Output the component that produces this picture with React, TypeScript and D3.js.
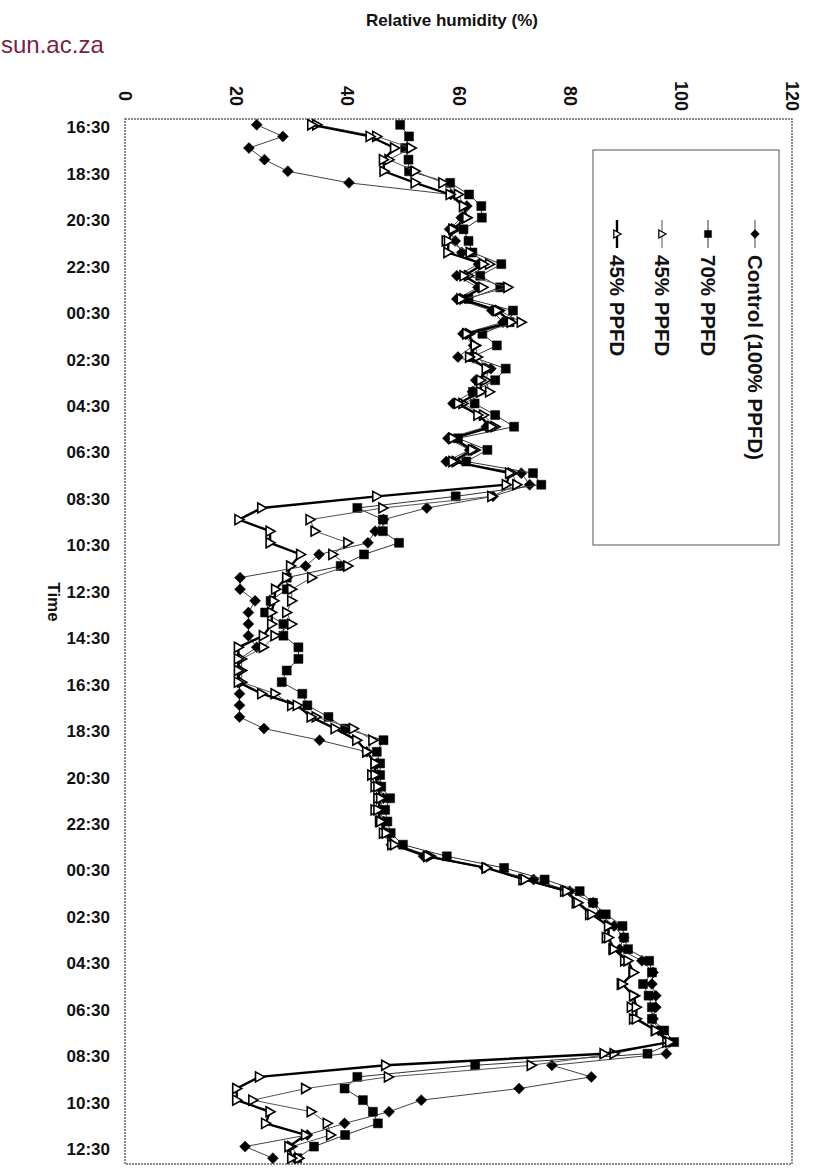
import React from "react";
import * as d3 from "d3";

const times = [
  "16:30","17:00","17:30","18:00","18:30","19:00","19:30","20:00","20:30","21:00",
  "21:30","22:00","22:30","23:00","23:30","00:00","00:30","01:00","01:30","02:00",
  "02:30","03:00","03:30","04:00","04:30","05:00","05:30","06:00","06:30","07:00",
  "07:30","08:00","08:30","09:00","09:30","10:00","10:30","11:00","11:30","12:00",
  "12:30","13:00","13:30","14:00","14:30","15:00","15:30","16:00","16:30","17:00",
  "17:30","18:00","18:30","19:00","19:30","20:00","20:30","21:00","21:30","22:00",
  "22:30","23:00","23:30","00:00","00:30","01:00","01:30","02:00","02:30","03:00",
  "03:30","04:00","04:30","05:00","05:30","06:00","06:30","07:00","07:30","08:00",
  "08:30","09:00","09:30","10:00","10:30","11:00","11:30","12:00","12:30","13:00",
];

const control = [
  23.7, 28.4, 22.3, 25.1, 29.3, 40.3, 58.6, 61.5, 60.5, 58.4,
  59.4, 60.6, 63.6, 59.7, 63.5, 59.7, 66, 68, 60.8, 62.7,
  59.9, 65.8, 63.1, 62.5, 59, 64, 65, 58.1, 62, 57.8,
  71.3, 72.8, 66.2, 54.3, 46.5, 45, 43.7, 34.9, 32.5, 20.7,
  20.7, 23.4, 22.2, 22.2, 22.2, 23.7, 20.6, 20.6, 20.6, 20.6,
  20.6, 20.6, 25, 35, 43.5, 45.3, 45.5, 45.8, 46.5, 45.8,
  46.5, 47, 47.9, 53.7, 64.7, 73.5, 80, 84.2, 85.5, 88,
  89.7, 89, 93, 95, 94.8, 95.5, 95.5, 95, 96, 98,
  97.4, 76.8, 83.9, 70.9, 53.3, 47.5, 39.5, 32.8, 21.6, 26.6,
];

const ppfd70 = [
  49.5, 51.1, 50.4, 51, 51.1, 58.5, 61.9, 64.1, 64.2, 60.9,
  61.8, 62.5, 67.7, 63.9, 67.5, 61.8, 69.8, 69.2, 64.3, 66.9,
  62.5, 68.5, 66.6, 62.6, 62.9, 66.6, 70, 59.9, 65.2, 61.4,
  73.4, 74.9, 59.5, 41.8, 46.4, 46.4, 49.3, 43, 38.8, 29.1,
  29.1, 26.2, 25.2, 28.5, 28.5, 31.2, 31.2, 29.1, 28.2, 31.9,
  32.8, 36.6, 39.6, 46.5, 45.3, 45.9, 45.9, 46.1, 47.7, 46.8,
  47.2, 47.8, 50, 57.9, 68.2, 75.5, 81.8, 84.2, 86.5, 89.5,
  89.8, 90.5, 94.3, 94.8, 93.2, 94.2, 94.8, 94.8, 97, 98.8,
  94, 63, 41.8, 39.5, 42.8, 44.6, 45.5, 39.6, 34, 31,
];

const ppfd45 = [
  34.5, 45.3, 51.5, 47.5, 52.2, 57.2, 60, 61, 61.5, 59.5,
  57.8, 62.1, 65.6, 61.8, 68.9, 61, 67.4, 71.3, 62, 63.1,
  63.4, 65.5, 64.9, 65.6, 60.8, 64.5, 66.6, 59, 63, 59.6,
  69.7, 70.5, 66, 46.4, 33.3, 34.2, 40.1, 37.4, 40.1, 33.6,
  30, 30, 29.1, 30, 27, 24.9, 21, 21, 21, 27,
  30, 34.4, 41.1, 44.6, 43.5, 45, 44.4, 45, 45.5, 45,
  45.8, 46.5, 48, 55, 65, 71.6, 79.1, 81.2, 83.6, 87.2,
  86.6, 87.8, 89.9, 91.4, 89.3, 91.7, 91.1, 91.5, 95.4, 97.5,
  88, 73.1, 47.4, 32.5, 23, 33.5, 36.4, 37, 30, 31.3,
];

const ppfd45b = [
  33.6, 44.1, 48.5, 46.5, 46.6, 52.2, 58.5, 60.9, 61.5, 59,
  58.2, 58.1, 64.5, 61, 64.4, 60.5, 67, 69.5, 61.5, 63,
  62, 65, 64, 64, 60, 63.5, 66, 59, 62.5, 59,
  69.2, 68.6, 45.3, 24.6, 20.5, 26.1, 26.1, 31.6, 29.8, 29.1,
  27.1, 26.8, 26.4, 26.4, 24.9, 20.4, 20.4, 20.4, 20.4, 24.6,
  31, 33.5, 37.8, 41.7, 43.5, 45, 45, 45.5, 46, 45.5,
  46, 47, 48.5, 54.5, 65, 72, 79.5, 81.5, 84, 87,
  87, 88, 90.5, 91.5, 89.5, 91.5, 92, 92, 95.5, 98,
  86.2, 46.9, 24.2, 20.1, 20.1, 26.1, 25.3, 32.5, 29.5, 30,
];

const valueTicks = [0, 20, 40, 60, 80, 100, 120];
const seriesNames = ["Control (100% PPFD)", "70% PPFD", "45% PPFD", "45% PPFD"];

const W = 817;
const H = 1172;
const plot = { left: 125, right: 792, top: 119, bottom: 1164 };
const FONT = "'Liberation Sans', Arial, sans-serif";

const diamondPath = "M0,-5.5L5.5,0L0,5.5L-5.5,0Z";
const squarePath = "M-4.5,-4.5H4.5V4.5H-4.5Z";
const triPath = "M-4,-5L5,0L-4,5Z";

type Series = {
  name: string;
  values: number[];
  marker: string;
  fill: string;
  stroke: string;
  lineColor: string;
  lineWidth: number;
  markerStroke: number;
};

export default function App() {
  const x = d3.scaleLinear().domain([0, 120]).range([plot.left, plot.right]);
  const y = d3
    .scalePoint<number>()
    .domain(times.map((_, i) => i))
    .range([plot.top, plot.bottom])
    .padding(0.5);

  const series: Series[] = [
    { name: seriesNames[0], values: control, marker: diamondPath, fill: "#000", stroke: "#000", lineColor: "#444", lineWidth: 1, markerStroke: 0.5 },
    { name: seriesNames[1], values: ppfd70, marker: squarePath, fill: "#000", stroke: "#000", lineColor: "#333", lineWidth: 1, markerStroke: 0.5 },
    { name: seriesNames[2], values: ppfd45, marker: triPath, fill: "#fff", stroke: "#000", lineColor: "#555", lineWidth: 1, markerStroke: 1.6 },
    { name: seriesNames[3], values: ppfd45b, marker: triPath, fill: "#fff", stroke: "#000", lineColor: "#000", lineWidth: 2.4, markerStroke: 1.6 },
  ];

  const line = (vals: number[]) =>
    d3
      .line<number>()
      .x((d) => x(d))
      .y((_, i) => y(i) as number)(vals) || "";

  const legendCols = [755, 708, 662, 617];

  return (
    <svg
      width={W}
      height={H}
      style={{ position: "absolute", left: 0, top: 0, background: "#fff" }}
      fontFamily={FONT}
    >
      <rect x={0} y={0} width={W} height={H} fill="#fff" />
      <text x={1} y={53} fontSize={24} fill="#7a2342">
        sun.ac.za
      </text>
      <text x={452} y={26} fontSize={17} fontWeight="bold" textAnchor="middle" fill="#111">
        Relative humidity (%)
      </text>

      {valueTicks.map((t) => (
        <text
          key={"vt" + t}
          transform={`translate(${x(t)},96) rotate(90)`}
          fontSize={18}
          fontWeight="bold"
          textAnchor="middle"
          dominantBaseline="central"
          fill="#111"
        >
          {t}
        </text>
      ))}

      {times.map((t, i) =>
        i % 4 === 0 ? (
          <text
            key={"tt" + i}
            x={110}
            y={(y(i) as number) + 3}
            fontSize={17}
            fontWeight="bold"
            textAnchor="end"
            dominantBaseline="central"
            fill="#111"
          >
            {t}
          </text>
        ) : null
      )}

      <text
        transform={`translate(53,602) rotate(90)`}
        fontSize={17}
        fontWeight="bold"
        textAnchor="middle"
        dominantBaseline="central"
        fill="#111"
      >
        Time
      </text>

      <rect
        x={plot.left}
        y={plot.top}
        width={plot.right - plot.left}
        height={plot.bottom - plot.top}
        fill="none"
        stroke="#666"
        strokeWidth={1.5}
        strokeDasharray="2,1"
      />

      {series.map((s, si) => (
        <g key={"s" + si}>
          <path d={line(s.values)} fill="none" stroke={s.lineColor} strokeWidth={s.lineWidth} />
          {s.values.map((v, i) => (
            <path
              key={i}
              d={s.marker}
              transform={`translate(${x(v)},${y(i)})`}
              fill={s.fill}
              stroke={s.stroke}
              strokeWidth={s.markerStroke}
            />
          ))}
        </g>
      ))}

      <rect x={593} y={150} width={186} height={395} fill="#fff" stroke="#555" strokeWidth={1} />
      {series.map((s, si) => (
        <g key={"lg" + si}>
          <line
            x1={legendCols[si]}
            x2={legendCols[si]}
            y1={220}
            y2={248}
            stroke={s.lineColor}
            strokeWidth={s.lineWidth}
          />
          <path
            d={s.marker}
            transform={`translate(${legendCols[si]},234) scale(0.8)`}
            fill={s.fill}
            stroke={s.stroke}
            strokeWidth={s.markerStroke}
          />
          <text
            transform={`translate(${legendCols[si]},255) rotate(90)`}
            fontSize={20.5}
            fontWeight="bold"
            dominantBaseline="central"
            fill="#111"
          >
            {s.name}
          </text>
        </g>
      ))}
    </svg>
  );
}
